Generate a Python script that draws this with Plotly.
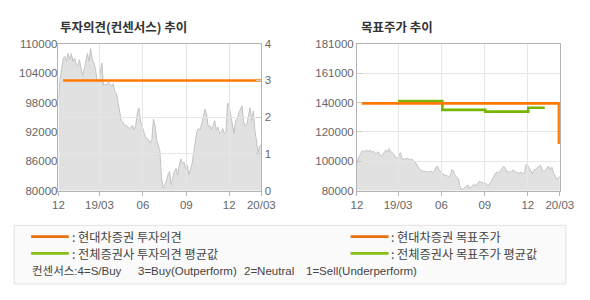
import numpy as np
import pandas as pd
import plotly.graph_objects as go

# ---------------- data ----------------
START = "2018-12-04"
END = "2020-02-07"

prices = [
    98600, 102800, 104800, 107100, 107400, 106400, 108000, 106700, 108000, 106400,
    107100, 105800, 105400, 106700, 105100, 103500, 104800, 106400, 108000, 106400,
    109000, 106700, 106100, 104800, 102500, 102200, 104400, 106100, 101500, 101800,
    101500, 102200, 101800, 101200, 101800, 100200, 99900, 98200, 96300, 94300,
    94000, 93300, 93300, 93000, 92700, 93000, 93300, 92400, 93300, 95900,
    96900, 94000, 93300, 92000, 91000, 90700, 90400, 89700, 90400, 94600,
    93300, 90400, 89100, 88100, 82600, 80600, 81200, 81900, 83200, 83900,
    81200, 82600, 83900, 84500, 83200, 85200, 86500, 85500, 85800, 84500,
    85200, 83200, 84200, 85500, 87800, 90400, 92000, 92700, 92400, 93700,
    95300, 96600, 95600, 93000, 93300, 92400, 93300, 94300, 92400, 93000,
    91700, 92000, 92700, 91700, 92000, 97900, 97300, 95600, 94000, 91700,
    94300, 94600, 95900, 96600, 97300, 94000, 93300, 93700, 95000, 96900,
    94300, 96300, 92400, 89700, 87800, 89100, 89400,
]

opinion_dates = ["2018-12-14", "2020-02-07"]
opinion_values = [3, 3]

target_dates = ["2018-12-14", "2020-02-05"]
target_values = [140000, 112000]

avg_target_dates = ["2019-03-01", "2019-06-03", "2019-09-02", "2019-12-02", "2020-01-06"]
avg_target_values = [141500, 135500, 134300, 137000, 137000]

x_tick_dates = ["2018-12-04", "2019-03-01", "2019-06-01", "2019-09-01", "2019-12-01", "2020-02-07"]
x_tick_text = ["12", "19/03", "06", "09", "12", "20/03"]

left_price_ticks = [80000, 86000, 92000, 98000, 104000, 110000]
opinion_ticks = [0, 1, 2, 3, 4]
target_tick_text = ["80000", "100000", "120000", "140000", "161000", "181000"]
target_range = [80000, 181000]

price_dates = pd.date_range(START, END, periods=len(prices))

# ---------------- style ----------------
W, H = 590, 300
ORANGE = "#ff7800"
GREEN = "#77b500"
LEG_ORANGE = "#e8700e"
LEG_GREEN = "#86c012"
BORDER = "#b4b4b4"
GRID = "#e6e6e6"
AREA_LINE = "#c3c3c3"
AREA_FILL = "#e1e1e1"
TICKFONT = dict(family="Liberation Sans, Arial, sans-serif", size=11.5, color="#666666")
KFONT = "Noto Sans CJK KR, sans-serif"

def px_x(p):
    return p / W

def px_y(p):
    return 1 - p / H

xd_left = [px_x(54.3), px_x(264.3)]
xd_right = [px_x(363.3), px_x(573.3)]
yd = [px_y(192.3), px_y(39.3)]

fig = go.Figure()

# left chart: price area (bottom subplot)
fig.add_trace(go.Scatter(x=price_dates, y=prices, xaxis="x", yaxis="y", mode="lines",
                         line=dict(color=AREA_LINE, width=1), fill="tozeroy",
                         fillcolor=AREA_FILL, hoverinfo="skip"))
# left chart: opinion line (top subplot)
fig.add_trace(go.Scatter(x=opinion_dates, y=opinion_values, xaxis="x2", yaxis="y2",
                         mode="lines", line=dict(color=ORANGE, width=2.6), hoverinfo="skip"))
# right chart: price area
fig.add_trace(go.Scatter(x=price_dates, y=prices, xaxis="x3", yaxis="y3", mode="lines",
                         line=dict(color=AREA_LINE, width=1), fill="tozeroy",
                         fillcolor=AREA_FILL, hoverinfo="skip"))
# right chart: average target price
fig.add_trace(go.Scatter(x=avg_target_dates, y=avg_target_values, xaxis="x4", yaxis="y4",
                         mode="lines", line=dict(color=GREEN, width=2.6, shape="hv"),
                         hoverinfo="skip"))
# right chart: target price
fig.add_trace(go.Scatter(x=target_dates, y=target_values, xaxis="x4", yaxis="y4",
                         mode="lines", line=dict(color=ORANGE, width=2.6, shape="hv"),
                         hoverinfo="skip"))

common_x_vis = dict(range=[START, END], type="date", tickvals=x_tick_dates, ticktext=x_tick_text,
                    showgrid=True, gridcolor=GRID, gridwidth=1, showline=True, linecolor=BORDER,
                    linewidth=1, mirror=True, ticks="outside", ticklen=4, tickcolor=BORDER,
                    tickfont=TICKFONT, zeroline=False, fixedrange=True)

fig.update_layout(
    width=W, height=H, margin=dict(l=0, r=0, t=0, b=0),
    paper_bgcolor="white", plot_bgcolor="rgba(0,0,0,0)", showlegend=False,
    xaxis=dict(domain=xd_left, anchor="y", range=[START, END], type="date", visible=False),
    yaxis=dict(domain=yd, anchor="x", range=[80000, 110000], tickvals=left_price_ticks,
               tickformat="d", showgrid=False, zeroline=False, showline=False, ticks="",
               tickfont=TICKFONT),
    xaxis2=dict(domain=xd_left, anchor="y2", **common_x_vis),
    yaxis2=dict(domain=yd, anchor="x2", side="right", range=[0, 4], tickvals=opinion_ticks,
                showgrid=True, gridcolor=GRID, showline=True, linecolor=BORDER, mirror=True,
                ticks="inside", ticklen=5, tickcolor="#cccccc", zeroline=False,
                tickfont=TICKFONT),
    xaxis3=dict(domain=xd_right, anchor="y3", range=[START, END], type="date", visible=False),
    yaxis3=dict(domain=yd, anchor="x3", range=target_range, visible=False),
    xaxis4=dict(domain=xd_right, anchor="y4", **common_x_vis),
    yaxis4=dict(domain=yd, anchor="x4", side="left", range=target_range,
                tickvals=list(np.linspace(target_range[0], target_range[1], len(target_tick_text))),
                ticktext=target_tick_text, showgrid=True, gridcolor=GRID, showline=True,
                linecolor=BORDER, mirror=True, ticks="inside", ticklen=5, tickcolor="#cccccc",
                zeroline=False, tickfont=TICKFONT),
)

annotations = []
shapes = []

# titles
annotations.append(dict(text="<b>투자의견(컨센서스) 추이</b>", x=px_x(54), y=px_y(21), xref="paper",
                        yref="paper", xanchor="left", yanchor="middle", showarrow=False,
                        font=dict(family=KFONT, size=12.5, color="#333333")))
annotations.append(dict(text="<b>목표주가 추이</b>", x=px_x(365.5), y=px_y(21), xref="paper",
                        yref="paper", xanchor="left", yanchor="middle", showarrow=False,
                        font=dict(family=KFONT, size=12.5, color="#333333")))

# legend box
shapes.append(dict(type="rect", xref="paper", yref="paper", x0=px_x(8.5), x1=px_x(579.5),
                   y0=px_y(289.5), y1=px_y(228.5), fillcolor="#fafafa",
                   line=dict(color="#e2e2e2", width=1), layer="below"))

legend_items = [
    (26, 65, 240.3, LEG_ORANGE, ": 현대차증권 투자의견", 67),
    (26, 65, 257.7, LEG_GREEN, ": 전체증권사 투자의견 평균값", 67),
    (356.7, 396, 240.3, LEG_ORANGE, ": 현대차증권 목표주가", 397.5),
    (356.7, 396, 257.7, LEG_GREEN, ": 전체증권사 목표주가 평균값", 397.5),
]
for x0, x1, yy, col, txt, tx in legend_items:
    shapes.append(dict(type="line", xref="paper", yref="paper", x0=px_x(x0), x1=px_x(x1),
                       y0=px_y(yy), y1=px_y(yy), line=dict(color=col, width=2.7)))
    annotations.append(dict(text=txt, x=px_x(tx), y=px_y(yy), xref="paper", yref="paper",
                            xanchor="left", yanchor="middle", showarrow=False, height=15,
                            borderpad=0,
                            font=dict(family=KFONT, size=12.2, color="#444444")))

consensus = [("컨센서스:4=S/Buy", 25.5), ("3=Buy(Outperform)", 135.5),
             ("2=Neutral", 245.5), ("1=Sell(Underperform)", 309)]
for txt, xx in consensus:
    annotations.append(dict(text=txt, x=px_x(xx), y=px_y(276), xref="paper", yref="paper",
                            xanchor="left", yanchor="middle", showarrow=False, height=14,
                            borderpad=0,
                            font=dict(family="Liberation Sans, Noto Sans CJK KR, sans-serif",
                                      size=11.5, color="#444444")))

fig.update_layout(annotations=annotations, shapes=shapes)
fig.write_html("out.html")
